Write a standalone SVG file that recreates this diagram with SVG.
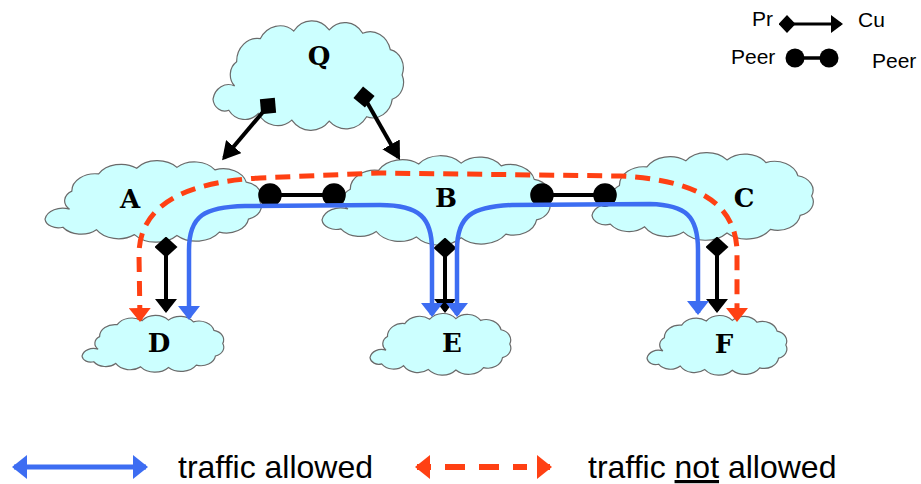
<svg xmlns="http://www.w3.org/2000/svg" xmlns:xlink="http://www.w3.org/1999/xlink" width="921" height="484" viewBox="0 0 921 484">
<style>
.cloud{fill:#ccffff;stroke:#6a6a6a;stroke-width:1.2;vector-effect:non-scaling-stroke}
.lbl{font-family:"DejaVu Serif","Liberation Serif",serif;font-weight:bold;font-size:26px;text-anchor:middle;fill:#000}
.blue{fill:none;stroke:#3d6df2;stroke-width:4.5}
.red{fill:none;stroke:#ff4013;stroke-width:5;stroke-dasharray:15 9}
.blk{fill:none;stroke:#000;stroke-width:4}
.dot{fill:#000}
.leg{font-family:"Liberation Sans",Arial,sans-serif;fill:#000}
</style>
<defs>
<path id="cloud" class="cloud" d="M0,72 A16,16 0 0 1 22,60 A14,14 0 0 1 24,38 A21,21 0 0 1 48,17 A23,23 0 0 1 82,10 A23,23 0 0 1 118,9 A22,22 0 0 1 152,12 A21,21 0 0 1 180,27 A17,17 0 0 1 192,50 A16,16 0 0 1 182,72 A20,20 0 0 1 156,88 A25,25 0 0 1 118,92 A25,25 0 0 1 80,91 A23,23 0 0 1 46,85 A20,20 0 0 1 16,82 A12,12 0 0 1 0,72 Z"/>
<marker id="ab" viewBox="0 0 14 22" refX="12" refY="11" markerWidth="14" markerHeight="22" markerUnits="userSpaceOnUse" orient="auto-start-reverse"><path d="M0,0L14,11L0,22z" fill="#3d6df2"/></marker>
<marker id="ar" viewBox="0 0 14 22" refX="12" refY="11" markerWidth="14" markerHeight="22" markerUnits="userSpaceOnUse" orient="auto-start-reverse"><path d="M0,0L14,11L0,22z" fill="#ff4013"/></marker>
<marker id="ak" viewBox="0 0 14 22" refX="12" refY="11" markerWidth="14" markerHeight="22" markerUnits="userSpaceOnUse" orient="auto"><path d="M0,0L14,11L0,22z" fill="#000"/></marker>
<marker id="akq" viewBox="0 0 18 20" refX="15" refY="10" markerWidth="18" markerHeight="20" markerUnits="userSpaceOnUse" orient="auto"><path d="M0,0L18,10L0,20z" fill="#000"/></marker>
<marker id="dm" viewBox="0 0 21 23" refX="10.5" refY="11.5" markerWidth="21" markerHeight="23" markerUnits="userSpaceOnUse" orient="auto"><path d="M0,11.5L10.5,0L21,11.5L10.5,23z" fill="#000"/></marker>
<marker id="ci" viewBox="-12 -12 24 24" refX="0" refY="0" markerWidth="24" markerHeight="24" markerUnits="userSpaceOnUse" orient="auto"><circle r="11.8" fill="#000"/></marker>
<marker id="dms" viewBox="0 0 17 18" refX="8.5" refY="9" markerWidth="17" markerHeight="18" markerUnits="userSpaceOnUse" orient="auto"><path d="M0,9L8.5,0L17,9L8.5,18z" fill="#000"/></marker>
<marker id="aks" viewBox="0 0 12 18" refX="10" refY="9" markerWidth="12" markerHeight="18" markerUnits="userSpaceOnUse" orient="auto"><path d="M0,0L12,9L0,18z" fill="#000"/></marker>
<marker id="cis" viewBox="-10 -10 20 20" refX="0" refY="0" markerWidth="20" markerHeight="20" markerUnits="userSpaceOnUse" orient="auto"><circle r="9.5" fill="#000"/></marker>
<marker id="abL" viewBox="0 0 15 24" refX="13" refY="12" markerWidth="15" markerHeight="24" markerUnits="userSpaceOnUse" orient="auto-start-reverse"><path d="M0,0L15,12L0,24z" fill="#3d6df2"/></marker>
<marker id="arL" viewBox="0 0 15 24" refX="13" refY="12" markerWidth="15" markerHeight="24" markerUnits="userSpaceOnUse" orient="auto-start-reverse"><path d="M0,0L15,12L0,24z" fill="#ff4013"/></marker>
</defs>
<rect width="921" height="484" fill="#fff"/>

<g id="node-Q"><use xlink:href="#cloud" transform="translate(213,20) scale(0.985,1.1)"/><text class="lbl" x="319" y="65">Q</text></g>
<g id="node-A"><use xlink:href="#cloud" transform="translate(45,160) scale(1.118,0.82)"/><text class="lbl" x="130" y="208">A</text></g>
<g id="node-B"><use xlink:href="#cloud" transform="translate(322,155) scale(1.179,0.9)"/><text class="lbl" x="446" y="207">B</text></g>
<g id="node-C"><use xlink:href="#cloud" transform="translate(592,152) scale(1.144,0.88)"/><text class="lbl" x="744" y="207">C</text></g>
<g id="node-D"><use xlink:href="#cloud" transform="translate(82,315) scale(0.733,0.57)"/><text class="lbl" x="159" y="352">D</text></g>
<g id="node-E"><use xlink:href="#cloud" transform="translate(370,313) scale(0.728,0.62)"/><text class="lbl" x="452" y="352">E</text></g>
<g id="node-F"><use xlink:href="#cloud" transform="translate(647,315) scale(0.723,0.6)"/><text class="lbl" x="724" y="353">F</text></g>

<g id="connectors">
<path class="blk" d="M268,106 L224,158" marker-end="url(#akq)"/>
<path class="blk" d="M364,97 L398.5,157.4" marker-end="url(#akq)"/>
<rect class="dot" x="260.5" y="98.5" width="15" height="15" transform="rotate(-5 268 106)"/>
<rect class="dot" x="356.5" y="89.5" width="15" height="15" transform="rotate(40 364 97)"/>
<path class="blk" d="M166,247 L166,311" marker-start="url(#dm)" marker-end="url(#ak)"/>
<path class="blk" d="M445,248 L445,311" marker-start="url(#dm)" marker-end="url(#ak)"/>
<path class="blk" d="M717,247 L717,311" marker-start="url(#dm)" marker-end="url(#ak)"/>
<path class="blk" d="M270,195 L334,195" marker-start="url(#ci)" marker-end="url(#ci)"/>
<path class="blk" d="M542,195 L605,195" marker-start="url(#ci)" marker-end="url(#ci)"/>
<path class="red" d="M140,320 L139,255 C139,205 185,182 260,178 L380,173 L620,176 C700,180 735,205 737,250 L737,320" marker-start="url(#ar)" marker-end="url(#ar)"/>
<path class="blue" d="M189,318 L189,250 C189,215 205,207 245,206 L380,205 C420,205 432,218 432,250 L432,315" marker-start="url(#ab)" marker-end="url(#ab)"/>
<path class="blue" d="M457,315 L457,250 C457,215 472,207 512,205 L650,204 C686,205 698,216 698,250 L698,313" marker-start="url(#ab)" marker-end="url(#ab)"/>
</g>

<g id="legend-top">
<text class="leg" x="752" y="26" font-size="21">Pr</text>
<path d="M787,24 L841,24" stroke="#000" stroke-width="3" marker-start="url(#dms)" marker-end="url(#aks)"/>
<text class="leg" x="858" y="27" font-size="21">Cu</text>
<text class="leg" x="731" y="64" font-size="21">Peer</text>
<path d="M795,58 L829,58" stroke="#000" stroke-width="3.5" marker-start="url(#cis)" marker-end="url(#cis)"/>
<text class="leg" x="872" y="68" font-size="21">Peer</text>
</g>

<g id="legend-bottom">
<path d="M14,467 L146,467" stroke="#3d6df2" stroke-width="5" fill="none" marker-start="url(#abL)" marker-end="url(#abL)"/>
<text class="leg" x="178" y="478" font-size="32">traffic allowed</text>
<path d="M417,467 L550,467" stroke="#ff4013" stroke-width="6" fill="none" stroke-dasharray="14,14,20,14,20,14,14" marker-start="url(#arL)" marker-end="url(#arL)"/>
<text class="leg" x="588" y="478" font-size="32">traffic <tspan text-decoration="underline">not</tspan> allowed</text>
</g>
</svg>
